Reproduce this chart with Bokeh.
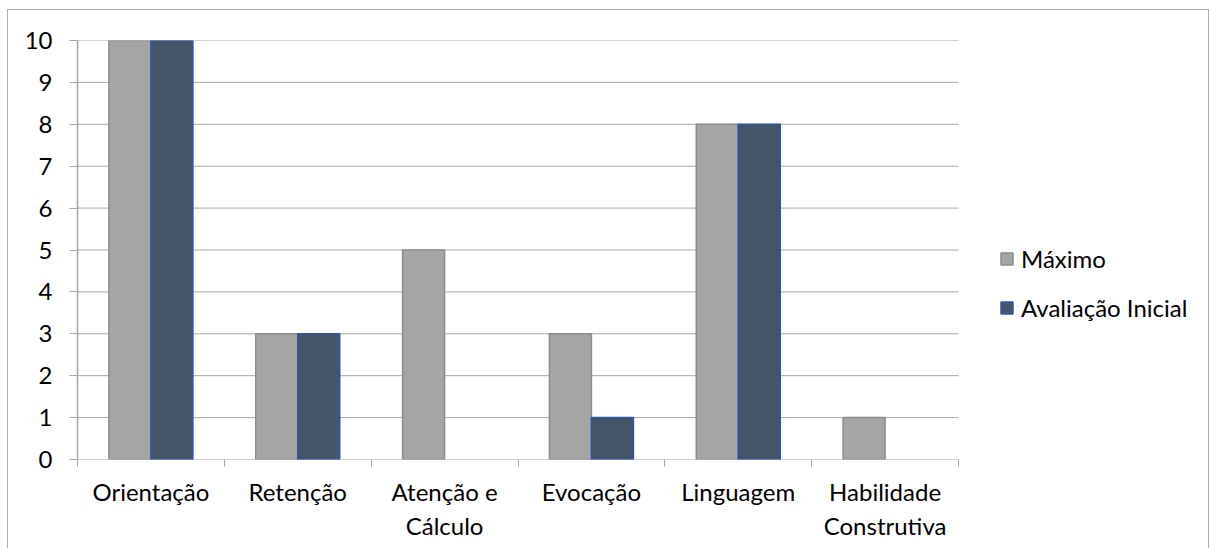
from bokeh.plotting import figure
from bokeh.models import (ColumnDataSource, Range1d, FixedTicker, Legend, LegendItem)
from bokeh.embed import file_html
from bokeh.resources import INLINE

categories = ["Orientação", "Retenção", "Atenção e\nCálculo", "Evocação", "Linguagem", "Habilidade\nConstrutiva"]
maximo = [10, 3, 5, 3, 8, 1]
avaliacao_inicial = [10, 3, 0, 1, 8, 0]
y_ticks = [0, 1, 2, 3, 4, 5, 6, 7, 8, 9, 10]

FONT = "Lato"
FS = "24px"
BAR_W = 0.286
GRAY, GRAY_LINE = "#A5A5A5", "#8C8C8C"
BLUE, BLUE_LINE = "#44546A", "#2F55A0"
GRID = "#A6A6A6"

n = len(categories)
# plot area spans 881 px for the categories; the frame continues to the right for the legend
x_end = n * 1131 / 881

p = figure(width=1200, height=538, output_backend="svg", toolbar_location=None,
           x_range=Range1d(0, x_end), y_range=Range1d(0, 10),
           min_border_left=69, min_border_top=30, min_border_right=0, min_border_bottom=89,
           margin=(10, 0, 0, 8))
p.styles = {"outline": "1.5px solid #ADADAD"}
p.outline_line_color = None
p.background_fill_color = "white"
p.border_fill_color = "white"

# horizontal gridlines over the category area only
p.segment(x0=[0] * len(y_ticks), x1=[n] * len(y_ticks), y0=y_ticks, y1=y_ticks,
          line_color=GRID, line_width=1)

def src(vals, shift):
    xs = [i + 0.5 + shift for i, v in enumerate(vals) if v > 0]
    ts = [v for v in vals if v > 0]
    return ColumnDataSource(dict(x=xs, top=ts))

r1 = p.vbar(x="x", top="top", width=BAR_W, source=src(maximo, -BAR_W / 2),
            fill_color=GRAY, line_color=GRAY_LINE, line_width=1.5)
r2 = p.vbar(x="x", top="top", width=BAR_W, source=src(avaliacao_inicial, BAR_W / 2),
            fill_color=BLUE, line_color=BLUE_LINE, line_width=1.5)

# axes
centers = [i + 0.5 for i in range(n)]
p.xaxis.ticker = FixedTicker(ticks=centers, minor_ticks=list(range(n + 1)))
p.xaxis.major_label_overrides = {c: lab for c, lab in zip(centers, categories)}
p.xaxis.major_tick_out = 0
p.xaxis.major_tick_in = 0
p.xaxis.minor_tick_out = 7
p.xaxis.minor_tick_in = 0
p.xaxis.minor_tick_line_color = GRID
p.xaxis.axis_line_color = None
p.xaxis.major_label_standoff = 10

p.yaxis.ticker = FixedTicker(ticks=y_ticks)
p.yaxis.major_tick_out = 8
p.yaxis.major_tick_in = 0
p.yaxis.minor_tick_line_color = None
p.yaxis.major_tick_line_color = GRID
p.yaxis.axis_line_color = GRID
p.yaxis.axis_line_width = 1.5
p.yaxis.major_label_standoff = 17

for ax in (p.xaxis, p.yaxis):
    ax.major_label_text_font = FONT
    ax.major_label_text_font_size = FS
    ax.major_label_text_color = "black"

p.xgrid.grid_line_color = None
p.ygrid.grid_line_color = None

legend = Legend(items=[LegendItem(label="Máximo", renderers=[r1]),
                       LegendItem(label="Avaliação Inicial", renderers=[r2])],
                location=(922, 137), orientation="vertical",
                border_line_color=None, background_fill_alpha=0,
                padding=0, margin=0, glyph_width=15, glyph_height=15,
                label_standoff=7, spacing=20,
                label_text_font=FONT, label_text_font_size=FS, label_text_color="black")
p.add_layout(legend, "center")

open("out.html", "w").write(file_html(p, INLINE))
